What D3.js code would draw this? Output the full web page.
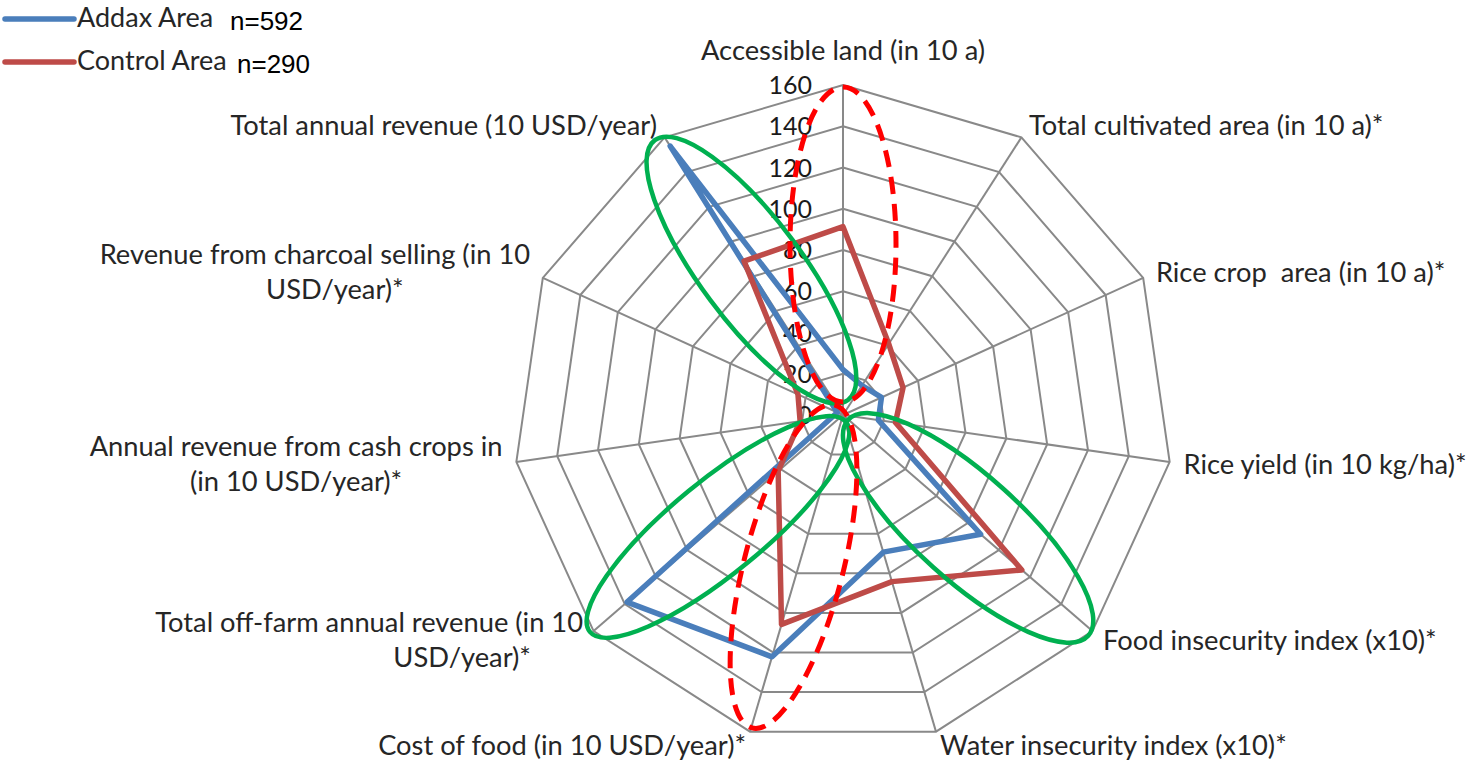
<!DOCTYPE html>
<meta charset="utf-8">
<style>
body { margin: 0; background: #fff; }
.grid { fill: none; stroke: #898989; stroke-width: 2px; }
.spoke { stroke: #898989; stroke-width: 2px; }
.tick-label { font-family: Lato, "Open Sans", sans-serif; font-size: 25px; fill: #1a1a1a; text-anchor: end; }
.axis-label { font-family: Lato, "Open Sans", sans-serif; font-size: 27.3px; fill: #262626; white-space: pre; }
.legend-text { font-family: Lato, sans-serif; font-size: 27px; fill: #262626; }
.legend-n { font-family: "Liberation Sans", Arial, sans-serif; font-size: 26px; fill: #000; }
</style>
<svg width="1470" height="763"></svg>
<script src="https://d3js.org/d3.v7.min.js"></script>
<script>

// axes, clockwise from the top
var axisNames = [
  ["Accessible land (in 10 a)"],
  ["Total cultivated area (in 10 a)*"],
  ["Rice crop  area (in 10 a)*"],
  ["Rice yield (in 10 kg/ha)*"],
  ["Food insecurity index (x10)*"],
  ["Water insecurity index (x10)*"],
  ["Cost of food (in 10 USD/year)*"],
  ["Total off-farm annual revenue (in 10", "USD/year)*"],
  ["Annual revenue from cash crops in", "(in 10 USD/year)*"],
  ["Revenue from charcoal selling (in 10", "USD/year)*"],
  ["Total annual revenue (10 USD/year)"]
];

var addax   = [22, 17, 20.5, 17.3, 88.3, 69.3, 122.2, 138.5, 5, 3, 155];
var control = [91.3, 41, 32, 25.7, 114.7, 84.2, 105.8, 41.6, 21, 24, 88.7];

var tickValues = [0, 20, 40, 60, 80, 100, 120, 140, 160];

var series = [
  {name: "Addax Area", n: "n=592", values: addax, color: "#4a7ebb"},
  {name: "Control Area", n: "n=290", values: control, color: "#be4b48"}
];

// highlight ellipses: two tips as [angle in degrees, value] + half width in value units
var greenRings = [
  {tips: [[325.6, 161.5], [18.4, 7.7]], half: 24.7},
  {tips: [[229.4, 161.6], [156.8, 3.7]], half: 22.5},
  {tips: [[132.0, 160.0], [135.0, 3.4]], half: 25.5}
];
var dashedRings = [
  {tips: [[0, 159], [0, 6.3]], half: 25.7},
  {tips: [[196.2, 158], [321, 6.2]], half: 24}
];

var svg = d3.select("svg"),
    cx = 843, cy = 415;

var r = d3.scaleLinear().domain([0, 160]).range([0, 330]);
var nAxes = axisNames.length;
var angle = function(i) { return i * 2 * Math.PI / nAxes; };

// wrapped second lines do not sit centred under the first in the original
var wrapShift = {7: 93, 9: 20};

function pt(a, v) {
  return [cx + r(v) * Math.sin(a), cy - r(v) * Math.cos(a)];
}

var g = svg.append("g");

// grid polygons
g.selectAll(".grid")
  .data(tickValues.slice(1))
  .enter().append("polygon")
    .attr("class", "grid")
    .attr("points", function(t) {
      return d3.range(nAxes).map(function(i) { return pt(angle(i), t).join(","); }).join(" ");
    });

g.selectAll(".spoke")
  .data(d3.range(nAxes))
  .enter().append("line")
    .attr("class", "spoke")
    .attr("x1", cx).attr("y1", cy)
    .attr("x2", function(i) { return pt(angle(i), 160)[0]; })
    .attr("y2", function(i) { return pt(angle(i), 160)[1]; });

// tick labels
g.selectAll(".tick-label")
  .data(tickValues)
  .enter().append("text")
    .attr("class", "tick-label")
    .attr("x", cx - 31)
    .attr("y", function(t) { return cy - r(t); })
    .attr("dy", "0.36em")
    .text(function(t) { return t; });

// axis labels
g.selectAll(".axis-label")
  .data(axisNames)
  .enter().append("text")
    .attr("class", "axis-label")
    .each(function(lines, i) {
      var a = angle(i), s = Math.sin(a), c = Math.cos(a);
      var off = 14 + (c > 0.99 ? 21 : 0);
      var p = pt(a, 160);
      var x = p[0] + off * s, y = p[1] - off * c;
      var anchor = s > 0.1 ? "start" : (s < -0.1 ? "end" : "middle");
      var el = d3.select(this);
      var lh = 35;
      var y0 = y - (lines.length - 1) * lh / 2;
      lines.forEach(function(line, k) {
        el.append("tspan")
          .attr("x", x).attr("y", y0 + k * lh)
          .attr("dy", "0.35em")
          .attr("text-anchor", anchor)
          .text(line);
      });
      // center extra lines inside the block
      if (lines.length > 1) {
        var spans = el.selectAll("tspan").nodes();
        var w0 = spans[0].getComputedTextLength();
        var mid = anchor === "end" ? x - w0 / 2 : (anchor === "start" ? x + w0 / 2 : x);
        mid += wrapShift[i] || 0;
        spans.slice(1).forEach(function(sp) {
          d3.select(sp).attr("x", mid).attr("text-anchor", "middle");
        });
      }
    });

// series
var line = d3.lineRadial()
  .angle(function(d, i) { return angle(i); })
  .radius(function(d) { return r(d); })
  .curve(d3.curveLinearClosed);

g.selectAll(".series")
  .data(series)
  .enter().append("path")
    .attr("class", "series")
    .attr("transform", "translate(" + cx + "," + cy + ")")
    .attr("d", function(d) { return line(d.values); })
    .attr("fill", "none")
    .attr("stroke", function(d) { return d.color; })
    .attr("stroke-width", 5.5)
    .attr("stroke-linejoin", "round");

// highlight ellipses
function ringAttrs(sel) {
  sel.each(function(d) {
    var p1 = pt(d.tips[0][0] * Math.PI / 180, d.tips[0][1]);
    var p2 = pt(d.tips[1][0] * Math.PI / 180, d.tips[1][1]);
    var mx = (p1[0] + p2[0]) / 2, my = (p1[1] + p2[1]) / 2;
    var rx = Math.hypot(p2[0] - p1[0], p2[1] - p1[1]) / 2;
    var rot = Math.atan2(p2[1] - p1[1], p2[0] - p1[0]) * 180 / Math.PI;
    d3.select(this)
      .attr("cx", 0).attr("cy", 0)
      .attr("rx", rx).attr("ry", r(d.half))
      .attr("transform", "translate(" + mx + "," + my + ") rotate(" + rot + ")")
      .attr("fill", "none");
  });
}

g.selectAll(".green-ring")
  .data(greenRings)
  .enter().append("ellipse")
    .attr("class", "green-ring")
    .call(ringAttrs)
    .attr("stroke", "#00b050")
    .attr("stroke-width", 4.5);

g.selectAll(".dash-ring")
  .data(dashedRings)
  .enter().append("ellipse")
    .attr("class", "dash-ring")
    .call(ringAttrs)
    .attr("stroke", "#ff0000")
    .attr("stroke-width", 5)
    .attr("stroke-dasharray", "17,10");

// legend
var legend = svg.append("g").selectAll("g")
  .data(series)
  .enter().append("g")
    .attr("transform", function(d, i) { return "translate(0," + (19 + i * 43) + ")"; });

legend.append("line")
  .attr("x1", 5).attr("x2", 74)
  .attr("stroke", function(d) { return d.color; })
  .attr("stroke-width", 5.5)
  .attr("stroke-linecap", "round");

legend.append("text")
  .attr("class", "legend-text")
  .attr("x", 77).attr("y", 8)
  .text(function(d) { return d.name; });

legend.append("text")
  .attr("class", "legend-n")
  .attr("x", function(d, i) { return i === 0 ? 230 : 237; })
  .attr("y", 11)
  .text(function(d) { return d.n; });

</script>
